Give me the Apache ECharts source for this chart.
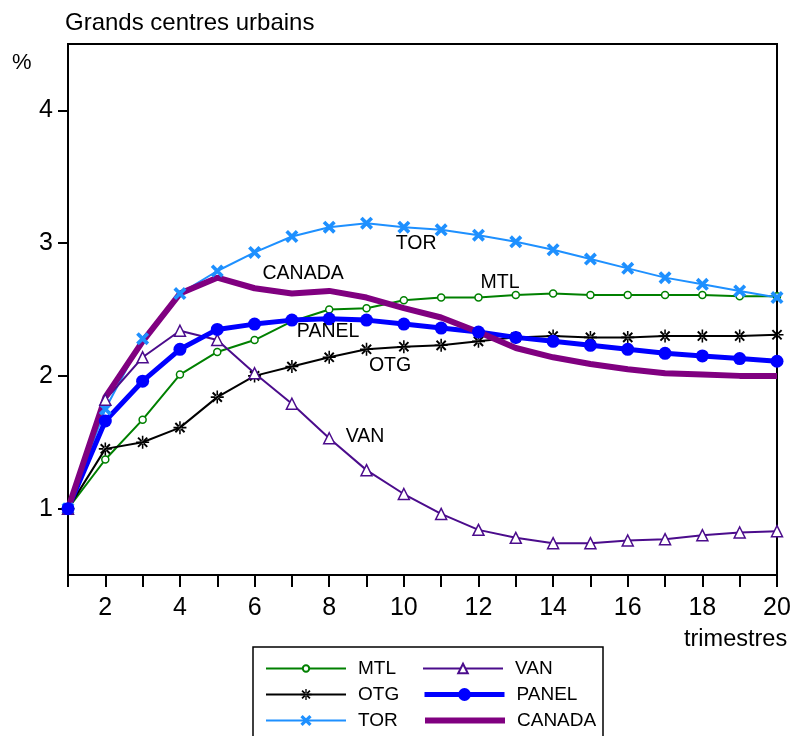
<!DOCTYPE html>
<html>
<head>
<meta charset="utf-8">
<script src="https://cdn.jsdelivr.net/npm/echarts@6/dist/echarts.min.js"></script>
<style>html,body{margin:0;padding:0;background:#fff}#c{width:796px;height:736px}</style>
</head>
<body>
<div id="c"></div>
<script>
const quarters = [1,2,3,4,5,6,7,8,9,10,11,12,13,14,15,16,17,18,19,20];
const MTL    = [1.00,1.37,1.67,2.01,2.18,2.27,2.41,2.50,2.51,2.57,2.59,2.59,2.61,2.62,2.61,2.61,2.61,2.61,2.60,2.60];
const OTG    = [1.00,1.45,1.50,1.61,1.84,2.00,2.07,2.14,2.20,2.22,2.23,2.26,2.29,2.30,2.29,2.29,2.30,2.30,2.30,2.31];
const TOR    = [1.00,1.75,2.28,2.62,2.79,2.93,3.05,3.12,3.15,3.12,3.10,3.06,3.01,2.95,2.88,2.81,2.74,2.69,2.64,2.59];
const VAN    = [1.00,1.82,2.14,2.34,2.27,2.02,1.79,1.53,1.29,1.11,0.96,0.84,0.78,0.74,0.74,0.76,0.77,0.80,0.82,0.83];
const PANEL  = [1.00,1.66,1.96,2.20,2.35,2.39,2.42,2.43,2.42,2.39,2.36,2.33,2.29,2.26,2.23,2.20,2.17,2.15,2.13,2.11];
const CANADA = [1.00,1.84,2.26,2.62,2.74,2.66,2.62,2.64,2.59,2.51,2.44,2.33,2.21,2.14,2.09,2.05,2.02,2.01,2.00,2.00];
const yTicks = [1,2,3,4];
const xLabels = [2,4,6,8,10,12,14,16,18,20];
// annotation anchor positions (data coords)
const labelPos = {
  MTL:[12.58,2.70], OTG:[9.63,2.08], TOR:[10.33,3.00],
  VAN:[8.96,1.54], PANEL:[7.97,2.33], CANADA:[7.30,2.77]
};

const FONT = '"Liberation Sans", Arial, sans-serif';
const asterisk = 'path://M-1.2,-10L1.2,-10L1.2,10L-1.2,10Z M-10,-1.2L10,-1.2L10,1.2L-10,1.2Z M6.01,8.13L8.13,6.01L-6.01,-8.13L-8.13,-6.01Z M8.13,-6.01L6.01,-8.13L-8.13,6.01L-6.01,8.13Z';
const cross = 'path://M6,10L10,6L-6,-10L-10,-6Z M10,-6L6,-10L-10,6L-6,10Z';

const COL = {MTL:'#008000', OTG:'#000000', TOR:'#1e90ff', VAN:'#4b0c8c', PANEL:'#0000ff', CANADA:'#800080'};
const LW = {MTL:2, OTG:2, TOR:2, VAN:2, PANEL:5, CANADA:6};

function pairs(arr){ return quarters.map((q,i)=>[q,arr[i]]); }
function mk(name){
  return {
    symbol:'circle', symbolSize:1, silent:true,
    itemStyle:{color:'rgba(0,0,0,0)'},
    label:{show:true, position:'inside', formatter:name, color:'#000', fontSize:19.5, fontFamily:FONT},
    data:[{coord:labelPos[name]}]
  };
}

const series = [
  {name:'MTL', type:'line', data:pairs(MTL), symbol:'circle', symbolSize:7,
   lineStyle:{color:COL.MTL, width:LW.MTL}, itemStyle:{color:'#fff', borderColor:COL.MTL, borderWidth:1.5}, markPoint:mk('MTL')},
  {name:'OTG', type:'line', data:pairs(OTG), symbol:asterisk, symbolSize:13,
   lineStyle:{color:COL.OTG, width:LW.OTG}, itemStyle:{color:COL.OTG}, markPoint:mk('OTG')},
  {name:'TOR', type:'line', data:pairs(TOR), symbol:cross, symbolSize:13,
   lineStyle:{color:COL.TOR, width:LW.TOR}, itemStyle:{color:COL.TOR}, markPoint:mk('TOR')},
  {name:'VAN', type:'line', data:pairs(VAN), symbol:'triangle', symbolSize:11,
   lineStyle:{color:COL.VAN, width:LW.VAN}, itemStyle:{color:'#fff', borderColor:COL.VAN, borderWidth:1.5}, markPoint:mk('VAN')},
  {name:'PANEL', type:'line', data:pairs(PANEL), symbol:'circle', symbolSize:13,
   lineStyle:{color:COL.PANEL, width:LW.PANEL}, itemStyle:{color:COL.PANEL}, markPoint:mk('PANEL')},
  {name:'CANADA', type:'line', data:pairs(CANADA), symbol:'none',
   lineStyle:{color:COL.CANADA, width:LW.CANADA}, itemStyle:{color:COL.CANADA}, markPoint:mk('CANADA')}
];

// legend: one component per item for exact placement
const legendSpec = [
  {name:'MTL', left:265, cy:667, h:8},
  {name:'OTG', left:265, cy:693, h:14},
  {name:'TOR', left:265, cy:719, h:14},
  {name:'VAN', left:422, cy:667, h:12},
  {name:'PANEL', left:422, cy:693, h:16},
  {name:'CANADA', left:422, cy:719, h:14}
];
const legends = legendSpec.map(s => {
  const item = {name:s.name};
  if (s.name === 'CANADA') item.itemStyle = {color:'rgba(0,0,0,0)', borderWidth:0, opacity:0};
  return {
    orient:'horizontal', left:s.left, top:s.cy - 8, padding:0,
    itemWidth:80, itemHeight:s.h, selectedMode:false,
    lineStyle:{color:COL[s.name], width:LW[s.name]},
    textStyle:{fontSize:19, fontFamily:FONT, color:'#000', padding:[0,0,0,7]},
    data:[item]
  };
});

const chart = echarts.init(document.getElementById('c'), null, {renderer:'canvas'});
chart.setOption({
  animation:false,
  backgroundColor:'#fff',
  textStyle:{fontFamily:FONT},
  grid:{left:68, top:44, right:19, bottom:161, show:true, borderColor:'#000', borderWidth:2, backgroundColor:'transparent'},
  xAxis:{type:'value', min:1, max:20, interval:1,
    axisLine:{lineStyle:{color:'#000', width:2}},
    axisTick:{show:true, inside:false, length:12, lineStyle:{color:'#000', width:2}},
    axisLabel:{fontSize:25, color:'#000', margin:21, fontFamily:FONT,
      formatter:v => xLabels.indexOf(v) >= 0 ? String(v) : ''},
    splitLine:{show:false}},
  yAxis:{type:'value', min:0.5, max:4.5,
    axisLine:{show:true, lineStyle:{color:'#000', width:2}},
    axisTick:{show:true, inside:false, length:10, customValues:yTicks, lineStyle:{color:'#000', width:2}},
    axisLabel:{fontSize:25, color:'#000', margin:15, fontFamily:FONT, customValues:yTicks},
    splitLine:{show:false}},
  legend:legends,
  graphic:[
    {type:'text', left:65, top:11, style:{text:'Grands centres urbains', fontSize:24, fontFamily:FONT, fill:'#000'}},
    {type:'text', left:12, top:52, style:{text:'%', fontSize:22, fontFamily:FONT, fill:'#000'}},
    {type:'text', left:684, top:628, style:{text:'trimestres', fontSize:23.5, fontFamily:FONT, fill:'#000'}},
    {type:'rect', shape:{x:253, y:647, width:350, height:100}, style:{fill:'none', stroke:'#000', lineWidth:1.5}, z:-1}
  ],
  series:series
});
</script>
</body>
</html>
